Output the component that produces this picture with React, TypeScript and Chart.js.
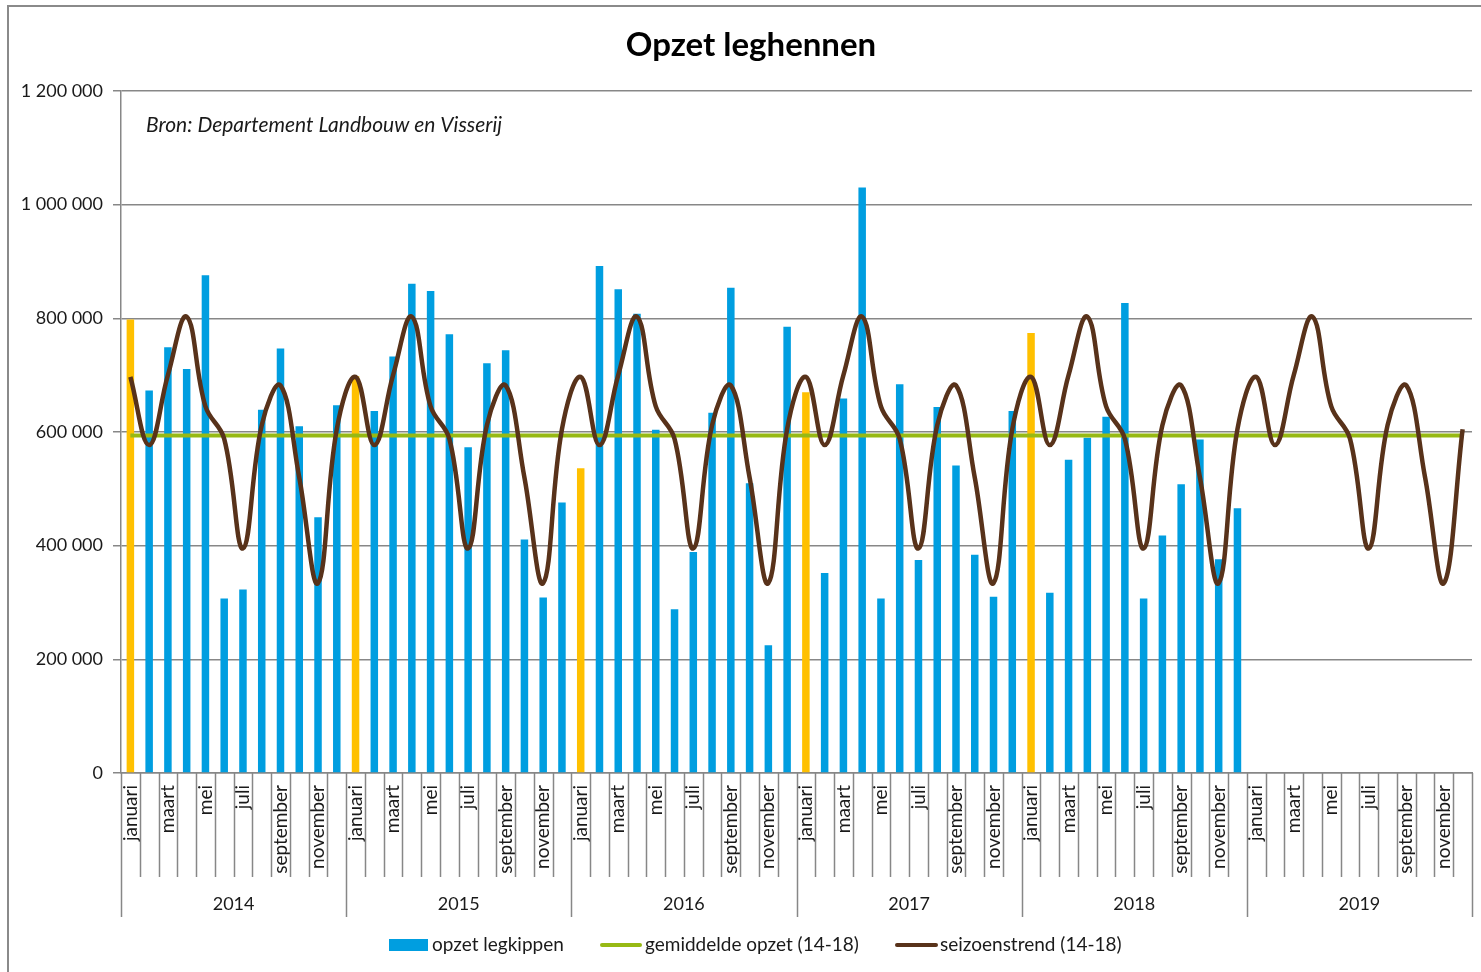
import React, { useEffect, useRef } from "react";
import { Chart, registerables } from "chart.js";

Chart.register(...registerables);

const MONTHS = ["januari", "februari", "maart", "april", "mei", "juni", "juli", "augustus", "september", "oktober", "november", "december"];
const YEARS = ["2014", "2015", "2016", "2017", "2018", "2019"];

const Y_TICKS = [0, 200000, 400000, 600000, 800000, 1000000, 1200000];

// opzet legkippen per month
const OPZET_2014 = [798000, 673000, 749000, 711000, 876000, 307000, 323000, 639000, 747000, 610000, 450000, 647000];
const OPZET_2015 = [698000, 637000, 733000, 861000, 848000, 772000, 573000, 721000, 744000, 411000, 309000, 476000];
const OPZET_2016 = [536000, 892000, 851000, 808000, 604000, 288000, 389000, 634000, 854000, 510000, 225000, 785000];
const OPZET_2017 = [670000, 352000, 659000, 1030000, 307000, 684000, 375000, 644000, 541000, 384000, 310000, 637000];
const OPZET_2018 = [774000, 317000, 551000, 590000, 627000, 827000, 307000, 418000, 508000, 587000, 376000, 466000];
const OPZET_2019 = [null, null, null, null, null, null, null, null, null, null, null, null];

// gemiddelde opzet (14-18)
const GEMIDDELDE = 594000;

// seizoenstrend (14-18)
const TREND_2014 = [697000, 577000, 700000, 803000, 645000, 588000, 395000, 612000, 682000, 520000, 334000, 605000];
const TREND_2015 = [697000, 577000, 700000, 803000, 645000, 588000, 395000, 612000, 682000, 520000, 334000, 605000];
const TREND_2016 = [697000, 577000, 700000, 803000, 645000, 588000, 395000, 612000, 682000, 520000, 334000, 605000];
const TREND_2017 = [697000, 577000, 700000, 803000, 645000, 588000, 395000, 612000, 682000, 520000, 334000, 605000];
const TREND_2018 = [697000, 577000, 700000, 803000, 645000, 588000, 395000, 612000, 682000, 520000, 334000, 605000];
const TREND_2019 = [697000, 577000, 700000, 803000, 645000, 588000, 395000, 612000, 682000, 520000, 334000, 605000];

const LEGEND_LABELS = ["opzet legkippen", "gemiddelde opzet (14-18)", "seizoenstrend (14-18)"];
const TITLE = "Opzet leghennen";
const SOURCE = "Bron: Departement Landbouw en Visserij";

const BLUE = "#009EE0";
const YELLOW = "#FFC000";
const GREEN = "#97B914";
const BROWN = "#58321A";
const GRID = "#878787";
const FONT = "Lato, 'Open Sans', sans-serif";

function fmt(v: number): string {
  return String(v).replace(/\B(?=(\d{3})+(?!\d))/g, " ");
}

export default function App() {
  const ref = useRef<HTMLCanvasElement | null>(null);

  useEffect(() => {
    const canvas = ref.current;
    if (!canvas) return;

    const labels: string[] = [];
    YEARS.forEach(() => MONTHS.forEach((m) => labels.push(m)));
    const barValues = [...OPZET_2014, ...OPZET_2015, ...OPZET_2016, ...OPZET_2017, ...OPZET_2018, ...OPZET_2019];
    const trendValues = [...TREND_2014, ...TREND_2015, ...TREND_2016, ...TREND_2017, ...TREND_2018, ...TREND_2019];
    const avgValues = labels.map(() => GEMIDDELDE);
    const barColors = labels.map((_, i) => (i % 12 === 0 ? YELLOW : BLUE));

    const decorPlugin = {
      id: "decor",
      afterDraw(chart: any) {
        const ctx = chart.ctx as CanvasRenderingContext2D;
        const area = chart.chartArea;
        const n = labels.length;
        const step = (area.right - area.left) / n;
        ctx.save();
        // category separators below axis
        ctx.strokeStyle = GRID;
        ctx.lineWidth = 1.5;
        for (let i = 0; i <= n; i++) {
          const x = Math.round(area.left + i * step) + 0.5;
          const len = i % 12 === 0 ? 144 : 104;
          ctx.beginPath();
          ctx.moveTo(x, area.bottom);
          ctx.lineTo(x, area.bottom + len);
          ctx.stroke();
        }
        // year labels
        ctx.fillStyle = "#1a1a1a";
        ctx.font = `18px ${FONT}`;
        ctx.textAlign = "center";
        ctx.textBaseline = "middle";
        YEARS.forEach((y, k) => {
          const cx = area.left + (k * 12 + 6) * step;
          ctx.fillText(y, cx, area.bottom + 131);
        });
        // title
        ctx.fillStyle = "#000";
        ctx.font = `bold 33px ${FONT}`;
        ctx.textAlign = "center";
        ctx.fillText(TITLE, 751, 45);
        // source
        ctx.font = `italic 21px ${FONT}`;
        ctx.textAlign = "left";
        ctx.fillStyle = "#1a1a1a";
        ctx.fillText(SOURCE, 146, 125);
        // legend
        const ly = 945;
        ctx.fillStyle = BLUE;
        ctx.fillRect(389, ly - 6, 39, 12);
        ctx.lineCap = "round";
        ctx.strokeStyle = GREEN;
        ctx.lineWidth = 4;
        ctx.beginPath();
        ctx.moveTo(602, ly);
        ctx.lineTo(640, ly);
        ctx.stroke();
        ctx.strokeStyle = BROWN;
        ctx.beginPath();
        ctx.moveTo(897, ly);
        ctx.lineTo(936, ly);
        ctx.stroke();
        ctx.fillStyle = "#1a1a1a";
        ctx.font = `19px ${FONT}`;
        ctx.fillText(LEGEND_LABELS[0], 432, ly);
        ctx.fillText(LEGEND_LABELS[1], 645, ly);
        ctx.fillText(LEGEND_LABELS[2], 940, ly);
        // outer border
        ctx.strokeStyle = "#8a8a8a";
        ctx.lineWidth = 2;
        ctx.strokeRect(8, 6, 1490, 990);
        ctx.restore();
      },
    };

    const chart = new Chart(canvas, {
      type: "bar",
      data: {
        labels,
        datasets: [
          {
            type: "bar",
            label: LEGEND_LABELS[0],
            data: barValues,
            backgroundColor: barColors,
            barPercentage: 0.4,
            categoryPercentage: 1,
            order: 3,
          },
          {
            type: "line",
            label: LEGEND_LABELS[1],
            data: avgValues,
            borderColor: GREEN,
            borderWidth: 4,
            pointRadius: 0,
            tension: 0,
            order: 2,
          },
          {
            type: "line",
            label: LEGEND_LABELS[2],
            data: trendValues,
            borderColor: BROWN,
            borderWidth: 4.5,
            pointRadius: 0,
            tension: 0.4,
            order: 1,
          },
        ] as any,
      },
      options: {
        responsive: false,
        animation: false,
        layout: { padding: { left: 0, top: 91, right: 9, bottom: 0 } },
        plugins: {
          legend: { display: false },
          title: { display: false },
          tooltip: { enabled: false },
        },
        scales: {
          x: {
            type: "category",
            offset: true,
            grid: { display: false, drawTicks: false },
            border: { display: true, color: GRID, width: 1.5 },
            ticks: {
              autoSkip: false,
              maxRotation: 90,
              minRotation: 90,
              padding: 12,
              color: "#1a1a1a",
              font: { family: FONT, size: 19 },
              callback: (_v: any, i: number) => (i % 2 === 0 ? labels[i] : ""),
            },
            afterFit: (scale: any) => {
              scale.height = 972 - 773;
              scale.paddingLeft = 0;
              scale.paddingRight = 0;
            },
          },
          y: {
            min: 0,
            max: 1200000,
            afterBuildTicks: (scale: any) => {
              scale.ticks = Y_TICKS.map((v) => ({ value: v }));
            },
            grid: { color: GRID, lineWidth: 1.5, drawTicks: true, tickLength: 8 },
            border: { display: true, color: GRID, width: 1.5 },
            ticks: {
              padding: 10,
              color: "#1a1a1a",
              font: { family: FONT, size: 18 },
              callback: (v: any) => fmt(Number(v)),
            },
            afterFit: (scale: any) => {
              scale.width = 121;
            },
          },
        },
      } as any,
      plugins: [decorPlugin],
    });

    return () => chart.destroy();
  }, []);

  return (
    <div style={{ position: "fixed", left: 0, top: 0, width: 1481, height: 972, background: "#fff" }}>
      <canvas ref={ref} width={1481} height={972} style={{ display: "block" }} />
    </div>
  );
}
